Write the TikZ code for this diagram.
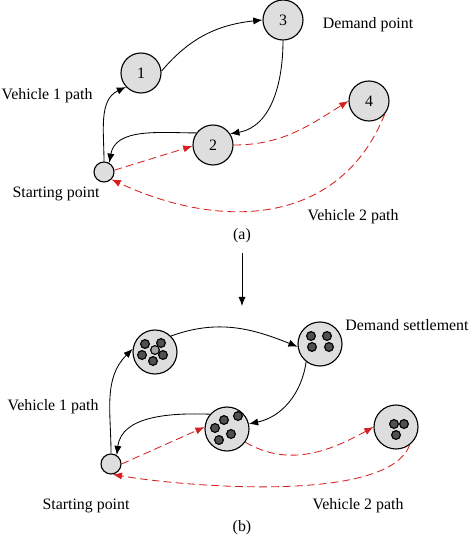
\documentclass[tikz,border=0pt]{standalone}
\usepackage{fontspec}
\setmainfont{Liberation Serif}
\usetikzlibrary{arrows.meta}

\definecolor{nodegray}{RGB}{222,222,222}
\definecolor{dotgray}{RGB}{80,80,80}
\definecolor{pathred}{RGB}{214,32,32}

\tikzset{
  demand/.style={circle, draw, thick, fill=nodegray, minimum size=1cm, inner sep=0pt},
  depot/.style={circle, draw, thick, fill=nodegray, minimum size=0.5cm, inner sep=0pt},
  settlement/.style={circle, draw, thick, fill=nodegray, minimum size=1.1cm, inner sep=0pt},
  resident/.style={draw, thick, fill=dotgray},
  route1/.style={->, semithick},
  route2/.style={->, semithick, pathred, dash pattern=on 5.5pt off 3pt},
  lbl/.style={font=\fontsize{11.3}{13}\selectfont, inner sep=0pt}
}

\begin{document}
\begin{tikzpicture}[>={Latex[length=2.3mm,width=1.8mm]}, font=\fontsize{11.3}{13}\selectfont]
                \useasboundingbox (0, 0) rectangle (11.85, 13.425);
                % (a) demand points
                \node[demand] (n1) at (3.525, 11.6) {1};
                \node[demand] (n3) at (7.075, 12.925) {3};
                \node[demand] (n4) at (9.225, 10.9) {4};
                \node[demand] (n2) at (5.325, 9.8) {2};
                \node[depot] (sa) at (2.6, 9.125) {};
                \node[lbl] (dpa) at (9.2, 12.8) {Demand point};
                \node[lbl] (v1a) at (1.175, 11.025) {Vehicle 1 path};
                \node[lbl] (spa) at (1.4, 8.575) {Starting point};
                \node[lbl] (v2a) at (8.825, 8.0) {Vehicle 2 path};
                \node[lbl] (capa) at (6.05, 7.525) {(a)};
                \draw[route1] (sa.north) to[out=90, in=205] (n1.223);
                \draw[route1] (n1.5) to[out=50, in=186] (n3.west);
                \draw[route1] (n3.south) to[out=-90, in=10] (n2.33);
                \draw[route1] (n2.144) to[out=180, in=80] (sa.60);
                \draw[route2] (sa.10) -- (n2.183);
                \draw[route2] (n2.east) to[out=0, in=212] (n4.west);
                \draw[route2] (n4.-40) to[out=-112, in=-25, looseness=1.1] (sa.-45);
                % arrow between (a) and (b)
                \coordinate (ta) at (6.05, 7.1);
                \coordinate (tb) at (6.05, 5.775);
                \draw[->, semithick] (ta) -- (tb);
                % (b) demand settlements
                \node[settlement] (cA) at (3.875, 4.625) {};
                \node[settlement] (cB) at (8.0, 4.825) {};
                \node[settlement] (cC) at (5.675, 2.7) {};
                \node[settlement] (cD) at (9.9, 2.75) {};
                \node[depot] (sb) at (2.775, 1.825) {};
                \foreach \dx/\dy in {-0.25/0.2, 0.15/0.225, -0.325/-0.075, 0.2/-0.075, -0.05/-0.225}
                    \draw[resident] ([shift={(\dx,\dy)}]cA.center) circle (0.11);
                \draw[resident, fill=nodegray!60!dotgray] ([shift={(0,0.05)}]cA.center) circle (0.11);
                \foreach \dx/\dy in {-0.225/0.2, 0.175/0.2, -0.2/-0.075, 0.225/-0.075}
                    \draw[resident] ([shift={(\dx,\dy)}]cB.center) circle (0.11);
                \foreach \dx/\dy in {-0.075/0.225, 0.275/0.325, -0.3/0.025, 0.1/-0.125, -0.2/-0.275}
                    \draw[resident] ([shift={(\dx,\dy)}]cC.center) circle (0.11);
                \foreach \dx/\dy in {-0.05/0.075, 0.2/0.075, 0/-0.2}
                    \draw[resident] ([shift={(\dx,\dy)}]cD.center) circle (0.11);
                \node[lbl] (dsb) at (10.175, 5.3) {Demand settlement};
                \node[lbl] (v1b) at (1.325, 3.25) {Vehicle 1 path};
                \node[lbl] (spb) at (2.15, 0.775) {Starting point};
                \node[lbl] (v2b) at (8.95, 0.775) {Vehicle 2 path};
                \node[lbl] (capb) at (6.05, 0.225) {(b)};
                \draw[route1] (sb.north) to[out=90, in=225] (cA.172);
                \draw[route1] (cA.45) to[out=20, in=158] (cB.187);
                \draw[route1] (cB.232) to[out=-98, in=12] (cC.13);
                \draw[route1] (cC.139) to[out=178, in=83] (sb.57);
                \draw[route2] (sb.east) -- (cC.175);
                \draw[route2] (cC.-36) to[out=-30, in=209] (cD.west);
                \draw[route2] (cD.-53) to[out=-110, in=-10, looseness=0.55] (sb.-80);
            \end{tikzpicture}
\end{document}
